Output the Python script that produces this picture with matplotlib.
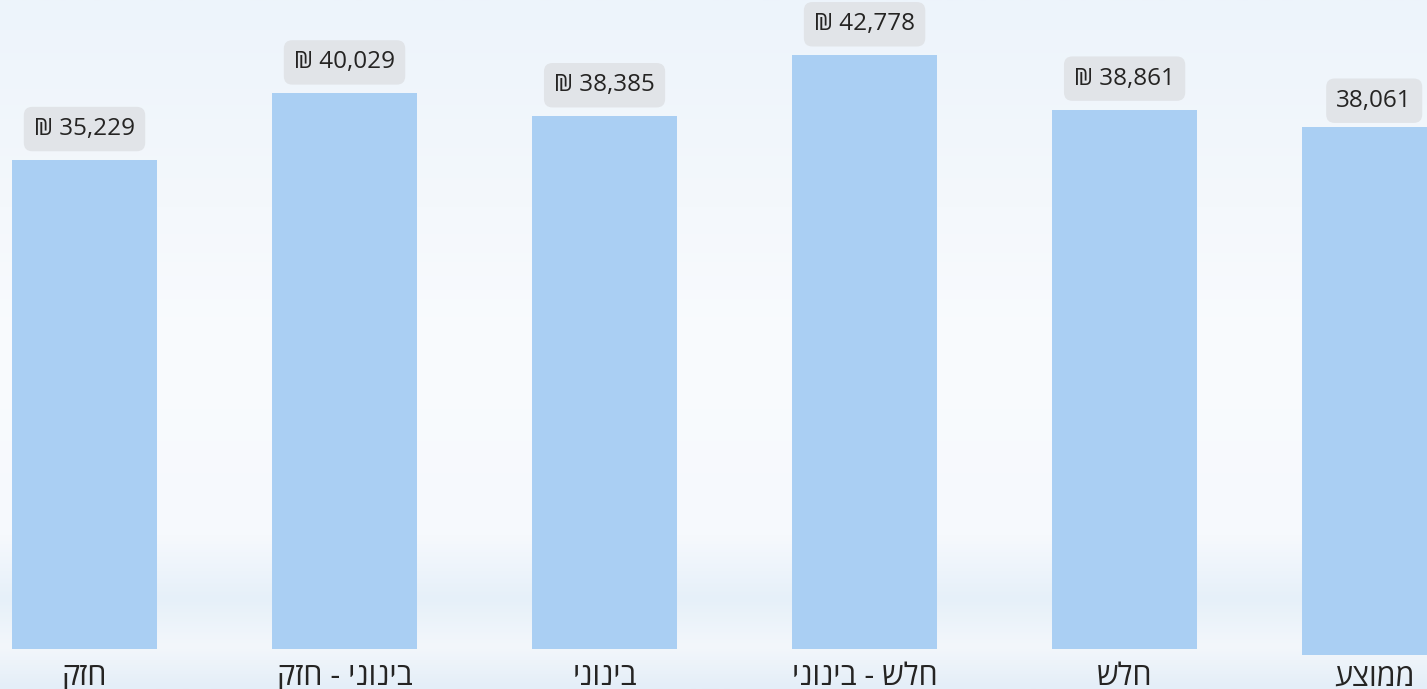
import numpy as np
import matplotlib.pyplot as plt
from matplotlib.colors import LinearSegmentedColormap

# data
categories = ["חזק", "בינוני - חזק", "בינוני", "חלש - בינוני", "חלש", "ממוצע"]
values = [35229, 40029, 38385, 42778, 38861, 38061]
value_labels = ["₪ 35,229", "₪ 40,029", "₪ 38,385", "₪ 42,778", "₪ 38,861", "38,061"]

plt.rcParams['font.family'] = ['Open Sans', 'DejaVu Sans']

fig = plt.figure(figsize=(14.27, 6.89), dpi=100)

# soft sky-like background
bg = fig.add_axes([0, 0, 1, 1])
cmap = LinearSegmentedColormap.from_list(
    "sky", [(0.0, "#edf4fb"), (0.3, "#f4f8fc"), (0.5, "#f9fbfe"),
            (0.78, "#f6f9fd"), (0.87, "#e6f0f9"), (0.94, "#f3f7fb"),
            (1.0, "#e4eef8")])
grad = np.linspace(0, 1, 256).reshape(-1, 1)
bg.imshow(grad, aspect='auto', cmap=cmap, extent=[0, 1, 0, 1], origin='upper')
bg.axis('off')

ax = fig.add_axes([0, 40 / 689, 1, 649 / 689])
ax.patch.set_alpha(0)

x = np.arange(len(categories), dtype=float)
x[-1] -= 0.04  # average column sits a little apart
bottoms = np.zeros(len(categories))
bottoms[-1] = -430
offsets = [31, 31, 31, 31, 31, 26]

bars = ax.bar(x, values, width=0.558, bottom=bottoms, color="#aacff3", clip_on=False)

for xi, v, b, lab, off in zip(x, values, bottoms, value_labels, offsets):
    ax.annotate(lab, (xi, v + b), xytext=(0, off), textcoords='offset pixels',
                ha='center', va='center', fontsize=17.5, color="#252423",
                bbox=dict(boxstyle='round,pad=0.42,rounding_size=0.35',
                          fc="#e1e4e8", ec='none'))

# hebrew labels: reverse for right-to-left display
for xi, c in zip(x, categories):
    ax.text(xi, -950, c[::-1], ha='center', va='top', fontsize=22,
            color="#252423", clip_on=False)

ax.set_xlim(-0.325, 5.163)
ax.set_ylim(0, 46760)
ax.axis('off')

fig.savefig("out.png", dpi=100)
